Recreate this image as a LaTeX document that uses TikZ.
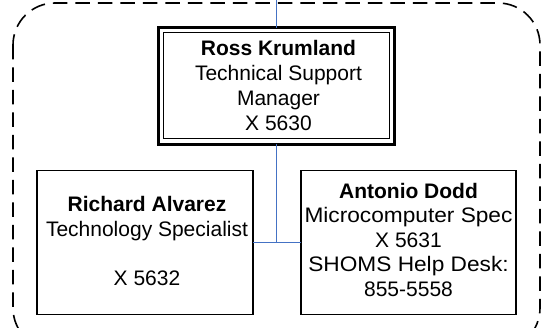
\documentclass[tikz,border=0pt]{standalone}
\usepackage{fontspec}
\setmainfont{Liberation Sans}
\definecolor{connblue}{HTML}{4472C4}
\newcommand{\wideline}[1]{{\addfontfeature{FakeStretch=1.08}#1}}
\tikzset{
  orgbox/.style={draw=black, line width=1.6pt, fill=white, inner sep=0pt, outer sep=0pt},
  orgtext/.style={align=center, inner sep=0pt, font=\fontsize{21}{24.5}\selectfont},
  conn/.style={draw=connblue, line width=1.5pt},
  groupframe/.style={draw=black, line width=1.6pt, dash pattern=on 14.5pt off 8pt, rounded corners=42pt}
}
\begin{document}
\begin{tikzpicture}[x=1pt,y=-1pt]
\useasboundingbox (0,0) rectangle (541,328);
\draw[groupframe] (13,3) rectangle (540,350);
% boxes
\node[orgbox, line width=3pt, minimum width=236.5pt, minimum height=116.5pt] (ross) at (276.7,86.25) {};
\draw[line width=1pt] ([shift={(5pt,-4.5pt)}]ross.north west) rectangle ([shift={(-5pt,6pt)}]ross.south east);
\node[orgbox, minimum width=216.2pt, minimum height=144pt] (richard) at (144.9,242.5) {};
\node[orgbox, minimum width=215pt, minimum height=144pt] (antonio) at (408.5,242.5) {};
% connectors
\coordinate (topin) at (276.7,0);
\draw[conn] (topin) -- (ross.north);
\draw[conn] (ross.south) -- (ross.south |- richard.east);
\draw[conn] (richard.east) -- (antonio.west);
% texts
\node[orgtext, font=\fontsize{21}{25}\selectfont] (rosst) at (278.5,85) {\textbf{Ross Krumland}\\Technical Support\\Manager\\X 5630};
\node[orgtext] (richardt) at (147,241) {\textbf{Richard Alvarez}\\Technology Specialist\\[24.5pt]X 5632};
\node[orgtext] (antoniot) at (408.5,239.5) {\textbf{Antonio Dodd}\\\wideline{Microcomputer Spec}\\X 5631\\\wideline{SHOMS Help Desk:}\\855-5558};
\end{tikzpicture}
\end{document}
